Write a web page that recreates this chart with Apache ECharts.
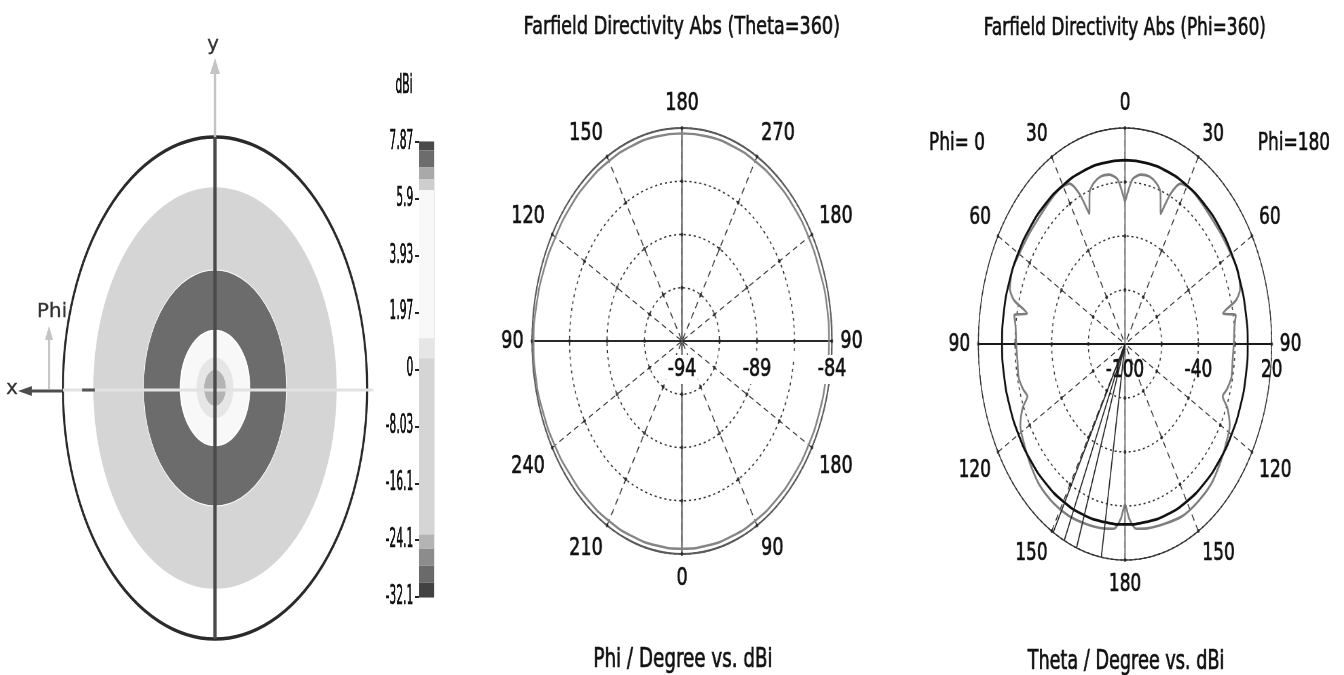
<!DOCTYPE html>
<html>
<head>
<meta charset="utf-8">
<script src="https://cdn.jsdelivr.net/npm/echarts@6/dist/echarts.min.js"></script>
<style>
  html, body { margin: 0; padding: 0; background: #fff; width: 1344px; height: 675px; overflow: hidden; }
  .panel { position: absolute; top: 0; height: 675px; transform-origin: 0 0; }
</style>
</head>
<body>
<div id="pL" class="panel"></div>
<div id="pC" class="panel"></div>
<div id="pM" class="panel"></div>
<div id="pR" class="panel"></div>
<script>
// ---------------- data ----------------
// colour scale (dBi)
const cbLabels = ['7.87', '5.9', '3.93', '1.97', '0', '-8.03', '-16.1', '-24.1', '-32.1'];
const cbTickValues = [7.87, 5.9, 3.93, 1.97, 0, -8.03, -16.1, -24.1, -32.1];
// colour bands of the scale, edges in tick steps counted from the top
const cbBandEdges = [0, 0.15, 0.45, 0.65, 0.85, 3.45, 3.8, 6.9, 7.15, 7.45, 7.75, 8];
const cbBandColors = ['#4a4a4a', '#6c6c6c', '#a9a9a9', '#cecece', '#f8f8f8', '#e6e6e6',
                      '#d5d5d5', '#b4b4b4', '#8c8c8c', '#6a6a6a', '#424242'];

// 3D view seen from +z: theta band edges (deg) and directivity level of each band (dBi)
const ringThetaEdges = [0, 6.5, 11, 20.5, 42.5, 72];
const ringLevels = [-24.5, 0.5, 3.5, 7.3, -12];

// Theta = 360 cut
const phiAnglesM = [0, 10, 20, 30, 40, 50, 60, 70, 80, 90, 100, 110, 120, 130, 140, 150, 160, 170, 180,
                    190, 200, 210, 220, 230, 240, 250, 260, 270, 280, 290, 300, 310, 320, 330, 340, 350, 360];
const dirM = [-84.25, -84.25, -84.25, -84.25, -84.25, -84.25, -84.25, -84.25, -84.2, -84.2, -84.25, -84.25,
              -84.25, -84.25, -84.25, -84.25, -84.25, -84.25, -84.25, -84.25, -84.25, -84.25, -84.25, -84.25,
              -84.2, -84.15, -84.1, -84.1, -84.15, -84.2, -84.25, -84.25, -84.25, -84.25, -84.25, -84.25, -84.25];
const angleLabelsM = ['180', '270', '180', '90', '180', '90', '0', '210', '240', '90', '120', '150'];
const radiusLabelsM = ['-94', '', '-89', '', '-84'];

// Phi = 360 cut
const angleLabelsR = ['0', '30', '60', '90', '120', '150', '180', '150', '120', '90', '60', '30'];
const radiusLabelsR = ['-100', '', '-40', '', '20'];
const thetaBlack = [0, 10, 20, 30, 40, 50, 60, 70, 80, 90, 100, 110, 120, 130, 140, 150, 160, 170, 180,
                    190, 200, 210, 220, 230, 240, 250, 260, 270, 280, 290, 300, 310, 320, 330, 340, 350, 360];
const dirBlack = [2.2, 2.1, 1.9, 1.6, 1.2, 0.9, 0.6, 0.4, 0.3, 0.4, 0.4, 0.5, 0.6, 0.8, 1.0, 1.0, 0.8, 0.4, 0.2,
                  0.4, 0.8, 1.0, 1.0, 0.8, 0.6, 0.5, 0.5, 0.6, 0.7, 0.8, 0.9, 1.1, 1.4, 1.7, 2.0, 2.1, 2.2];
const thetaGray = [0, 2, 4, 8, 12, 16, 19, 22, 24, 27, 32, 38, 45, 52, 60, 66, 72, 75, 78, 80, 84, 90,
                   96, 102, 107, 110, 113, 118, 124, 130, 138, 146, 154, 162, 170, 175, 178, 180,
                   182, 185, 190, 198, 206, 214, 222, 230, 236, 242, 247, 250, 253, 258, 264, 270,
                   276, 280, 282, 285, 288, 294, 300, 308, 315, 322, 328, 333, 336, 338, 341, 344,
                   348, 352, 356, 358, 360];
const dirGray = [-21, -14, -8, -5, -4.8, -7, -11, -22, -9, 0, 1.5, 0.5, -0.5, -0.5, 0, 1, -1, -6, -18, -8, -10, -11,
                 -11.5, -11, -13, -15, -9, -3, -0.5, 2, 5, 6, 6.5, 5, 4, 3, -3, -11,
                 -3, 3, 4, 5, 6, 6, 5, 2, -0.5, -3, -9, -15, -13, -11, -11.5, -11,
                 -10, -8, -18, -6, -1, 1, 0, -0.5, -0.5, 0.5, 1.5, 0, -9, -22, -11, -7,
                 -4.8, -5, -8, -14, -21];
const beamAngles = [189.3, 199.3, 204.5, 209.3];

// ---------------- helpers ----------------
const FONT = 'DejaVu Sans';
const INK = '#111';
const labelInk = { textBorderColor: INK, textBorderWidth: 0.7 };
function levelToUnit(v) {
  for (let i = 0; i < cbTickValues.length - 1; i++) {
    const a = cbTickValues[i], b = cbTickValues[i + 1];
    if (v <= a && v >= b) return i + (a - v) / (a - b);
  }
  return v > cbTickValues[0] ? 0 : cbTickValues.length - 1;
}
function levelColor(v) {
  const u = levelToUnit(v);
  for (let i = 0; i < cbBandColors.length; i++) {
    if (u >= cbBandEdges[i] && u < cbBandEdges[i + 1]) return cbBandColors[i];
  }
  return cbBandColors[cbBandColors.length - 1];
}
// each panel is drawn unstretched and squeezed horizontally, which turns the polar grids into ellipses
function makePanel(id, leftPx, sx, widthPx) {
  const el = document.getElementById(id);
  el.style.left = leftPx + 'px';
  el.style.width = (widthPx / sx) + 'px';
  el.style.transform = 'scaleX(' + sx + ')';
  return echarts.init(el, null, { renderer: 'canvas' });
}
function txt(x, y, text, size, opts) {
  opts = opts || {};
  return {
    type: 'text', x: x, y: y, silent: true, scaleX: opts.scaleX || 1, z: 20,
    style: {
      text: text, font: size + 'px "' + FONT + '"', fill: opts.fill || INK,
      stroke: opts.fill || INK, lineWidth: opts.stroke === undefined ? 0.7 : opts.stroke,
      align: 'center', verticalAlign: 'middle', textAlign: 'center', textVerticalAlign: 'middle'
    }
  };
}
// small dots where the spokes cross the rings
function gridDots(rMin, rStep, nRings) {
  const pts = [];
  for (let a = 0; a < 360; a += 30) {
    for (let j = 1; j <= nRings; j++) pts.push([rMin + j * rStep, a]);
  }
  return pts;
}

// ---------------- 3D view ----------------
const sL = 0.606;
const chartL = makePanel('pL', 0, sL, 400);
const cxL = 215 / sL, cyL = 388, RL = 251;
const k = 1 / sL;
chartL.setOption({
  animation: false,
  polar: { center: [cxL, cyL], radius: RL },
  angleAxis: {
    type: 'category', data: [''], startAngle: 90,
    axisLine: { show: true, lineStyle: { color: '#2a2a2a', width: 3.5 } },
    axisTick: { show: false }, axisLabel: { show: false }, splitLine: { show: false }
  },
  radiusAxis: {
    type: 'value', min: 0, max: 90,
    axisLine: { show: false }, axisTick: { show: false }, axisLabel: { show: false }, splitLine: { show: false }
  },
  series: ringLevels.map((lv, i) => ({
    type: 'bar', coordinateSystem: 'polar', stack: 'rings', barWidth: '100%', silent: true,
    data: [ringThetaEdges[i + 1] - ringThetaEdges[i]],
    itemStyle: { color: levelColor(lv), borderColor: i === 3 ? '#ffffff' : levelColor(lv), borderWidth: i === 3 ? 2 : 0 }
  })),
  graphic: [
    // coordinate cross
    { type: 'line', silent: true, z: 10, shape: { x1: cxL - RL, y1: 390, x2: cxL + RL + 6 * k, y2: 390 }, style: { stroke: '#e2e2e2', lineWidth: 3 } },
    { type: 'line', silent: true, z: 10, shape: { x1: 82 * k, y1: 390, x2: 95 * k, y2: 390 }, style: { stroke: '#555', lineWidth: 3 } },
    { type: 'line', silent: true, z: 11, shape: { x1: cxL, y1: cyL - RL, x2: cxL, y2: cyL + RL }, style: { stroke: '#4a4a4a', lineWidth: 5.5 } },
    // y arrow
    { type: 'line', silent: true, z: 10, shape: { x1: cxL, y1: cyL - RL, x2: cxL, y2: 72 }, style: { stroke: '#c4c4c4', lineWidth: 4 } },
    { type: 'polygon', silent: true, z: 10, shape: { points: [[cxL, 58], [cxL - 5 * k, 74], [cxL + 5 * k, 74]] }, style: { fill: '#c4c4c4' } },
    // x arrow
    { type: 'line', silent: true, z: 10, shape: { x1: 62 * k, y1: 391, x2: 30 * k, y2: 391 }, style: { stroke: '#4d4d4d', lineWidth: 3 } },
    { type: 'polygon', silent: true, z: 10, shape: { points: [[18 * k, 391], [32 * k, 386], [32 * k, 396]] }, style: { fill: '#4d4d4d' } },
    // Phi arrow
    { type: 'line', silent: true, z: 10, shape: { x1: 49 * k, y1: 389, x2: 49 * k, y2: 338 }, style: { stroke: '#c4c4c4', lineWidth: 3.5 } },
    { type: 'polygon', silent: true, z: 10, shape: { points: [[49 * k, 326], [45 * k, 340], [53 * k, 340]] }, style: { fill: '#c4c4c4' } },
    txt(213 * k, 45, 'y', 20, { scaleX: k, fill: '#333', stroke: 0.3 }),
    txt(12 * k, 389, 'x', 20, { scaleX: k, fill: '#333', stroke: 0.3 }),
    txt(52 * k, 312, 'Phi', 20, { scaleX: k, fill: '#333', stroke: 0.3 })
  ]
});

// ---------------- colour scale ----------------
const sC = 0.41;
const chartC = makePanel('pC', 370, sC, 80);
chartC.setOption({
  animation: false,
  grid: { left: 49 / sC, width: 15 / sC, top: 142, height: 455, show: true, borderColor: '#333', borderWidth: 1 },
  xAxis: { type: 'category', data: [''], show: false },
  yAxis: {
    type: 'value', min: 0, max: 8, interval: 1, inverse: true,
    axisLine: { show: true, lineStyle: { color: '#333', width: 1 } },
    axisTick: { show: true, length: 10, lineStyle: { color: '#222', width: 2 } },
    axisLabel: Object.assign({ formatter: v => cbLabels[Math.round(v)], fontFamily: FONT, fontSize: 26, color: INK, margin: 14 }, labelInk),
    splitLine: { show: false }
  },
  series: cbBandColors.map((c, i) => ({
    type: 'bar', stack: 'cb', barWidth: '100%', silent: true,
    data: [cbBandEdges[i + 1] - cbBandEdges[i]], itemStyle: { color: c }
  })),
  graphic: [txt(34 / sC, 86, 'dBi', 26)]
});

// ---------------- Theta = 360 cut ----------------
const sM = 0.704;
const chartM = makePanel('pM', 460, sM, 440);
const cxM = (682 - 460) / sM, cyM = 341, RM = 213;
chartM.setOption({
  animation: false,
  polar: [{ center: [cxM, cyM], radius: RM }, { center: [cxM, cyM], radius: RM }],
  angleAxis: [
    {
      polarIndex: 0, type: 'value', min: 0, max: 360, interval: 30, startAngle: 90, clockwise: true,
      axisLine: { show: true, lineStyle: { color: '#5a5a5a', width: 2 } },
      axisTick: { show: false },
      axisLabel: Object.assign({ formatter: v => angleLabelsM[Math.round(v / 30) % 12], fontFamily: FONT, fontSize: 25, color: INK, margin: 12 }, labelInk),
      splitLine: { show: true, lineStyle: { type: [7, 5], color: '#333', width: 1.4 } }
    },
    {
      polarIndex: 1, type: 'value', min: 0, max: 360, interval: 90, startAngle: 0,
      axisLine: { show: false }, axisTick: { show: false }, axisLabel: { show: false },
      splitLine: { show: true, lineStyle: { color: ['#2a2a2a', '#555'], width: 2 } }
    }
  ],
  radiusAxis: [
    {
      polarIndex: 0, type: 'value', min: -94, max: -84, interval: 2.5,
      axisLine: { show: false }, axisTick: { show: false }, axisLabel: { show: false },
      splitLine: { show: true, lineStyle: { type: [3, 4], color: '#333', width: 1.5 } }
    },
    {
      polarIndex: 1, type: 'value', min: -94, max: -84, interval: 2.5, z: 5,
      axisLine: { show: false }, axisTick: { show: false },
      axisLabel: Object.assign({
        formatter: v => radiusLabelsM[Math.round((v + 94) / 2.5)], verticalAlign: 'top', margin: -14,
        fontFamily: FONT, fontSize: 25, color: INK, backgroundColor: '#fff', padding: [2, 2]
      }, labelInk),
      splitLine: { show: false }
    }
  ],
  series: [
    {
      type: 'line', coordinateSystem: 'polar', polarIndex: 0, symbol: 'none', smooth: true, silent: true,
      data: phiAnglesM.map((a, i) => [dirM[i], a]),
      lineStyle: { color: '#858585', width: 2.4 }
    },
    {
      type: 'scatter', coordinateSystem: 'polar', polarIndex: 0, symbolSize: 4, silent: true,
      data: gridDots(-94, 2.5, 4), itemStyle: { color: '#222' }
    }
  ],
  graphic: [
    txt(315, 27, 'Farfield Directivity Abs (Theta=360)', 25),
    txt((683 - 460) / sM, 660, 'Phi / Degree vs. dBi', 26)
  ]
});

// ---------------- Phi = 360 cut ----------------
const sR = 0.679;
const chartR = makePanel('pR', 900, sR, 444);
const cxR = (1125 - 900) / sR, cyR = 344, RR = 216;
chartR.setOption({
  animation: false,
  polar: [{ center: [cxR, cyR], radius: RR }, { center: [cxR, cyR], radius: RR }],
  angleAxis: [
    {
      polarIndex: 0, type: 'value', min: 0, max: 360, interval: 30, startAngle: 90, clockwise: true,
      axisLine: { show: true, lineStyle: { color: '#333', width: 1.4 } },
      axisTick: { show: false },
      axisLabel: Object.assign({ formatter: v => angleLabelsR[Math.round(v / 30) % 12], fontFamily: FONT, fontSize: 25, color: INK, margin: 12 }, labelInk),
      splitLine: { show: true, lineStyle: { type: [7, 5], color: '#333', width: 1.4 } }
    },
    {
      polarIndex: 1, type: 'value', min: 0, max: 360, interval: 90, startAngle: 0,
      axisLine: { show: false }, axisTick: { show: false }, axisLabel: { show: false },
      splitLine: { show: true, lineStyle: { color: ['#1a1a1a', '#777'], width: 2 } }
    }
  ],
  radiusAxis: [
    {
      polarIndex: 0, type: 'value', min: -100, max: 20, interval: 30,
      axisLine: { show: false }, axisTick: { show: false }, axisLabel: { show: false },
      splitLine: { show: true, lineStyle: { type: [3, 4], color: '#333', width: 1.5 } }
    },
    {
      polarIndex: 1, type: 'value', min: -100, max: 20, interval: 30,
      axisLine: { show: false }, axisTick: { show: false },
      axisLabel: Object.assign({
        formatter: v => radiusLabelsR[Math.round((v + 100) / 30)], verticalAlign: 'top', margin: -14,
        fontFamily: FONT, fontSize: 25, color: INK
      }, labelInk),
      splitLine: { show: false }
    }
  ],
  series: [
    {
      type: 'scatter', coordinateSystem: 'polar', polarIndex: 0, symbolSize: 4, silent: true, z: 2,
      data: gridDots(-100, 30, 4), itemStyle: { color: '#222' }
    },
    {
      type: 'line', coordinateSystem: 'polar', polarIndex: 0, symbol: 'none', smooth: 0.25, silent: true, z: 3,
      data: thetaGray.map((a, i) => [dirGray[i], a]),
      lineStyle: { color: '#7e7e7e', width: 2.6 }
    },
    {
      type: 'line', coordinateSystem: 'polar', polarIndex: 0, symbol: 'none', smooth: true, silent: true, z: 4,
      data: thetaBlack.map((a, i) => [dirBlack[i], a]),
      lineStyle: { color: '#111', width: 2.8 }
    }
  ].concat(beamAngles.map(a => ({
    type: 'line', coordinateSystem: 'polar', polarIndex: 0, symbol: 'none', silent: true, z: 5,
    data: [[-100, a], [20, a]],
    lineStyle: { color: '#222', width: 1.6 }
  }))),
  graphic: [
    txt(331, 28, 'Farfield Directivity Abs (Phi=360)', 25),
    txt((1126 - 900) / sR, 662, 'Theta / Degree vs. dBi', 26),
    txt((957 - 900) / sR, 143, 'Phi= 0', 25),
    txt((1294 - 900) / sR, 143, 'Phi=180', 25)
  ]
});
</script>
</body>
</html>
